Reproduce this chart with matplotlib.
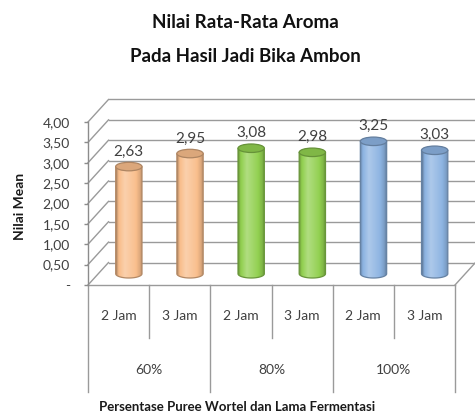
import numpy as np
import matplotlib
matplotlib.use('Agg')
import matplotlib.pyplot as plt
import matplotlib.colors as mcolors
from matplotlib.patches import Ellipse, PathPatch
from matplotlib.path import Path

plt.rcParams['font.family'] = ['Lato', 'DejaVu Sans']

# data
title_lines = ['Nilai Rata-Rata Aroma', 'Pada Hasil Jadi Bika Ambon']
groups = ['60%', '80%', '100%']
times = ['2 Jam', '3 Jam']
means = [2.63, 2.95, 3.08, 2.98, 3.25, 3.03]
bar_colors = ['#F9BE8C', '#F9BE8C', '#92D050', '#92D050', '#8DB4E2', '#8DB4E2']
yticks = [0, 0.5, 1.0, 1.5, 2.0, 2.5, 3.0, 3.5, 4.0]
ytick_labels = ['-', '0,50', '1,00', '1,50', '2,00', '2,50', '3,00', '3,50', '4,00']

W, H = 475, 417
fig = plt.figure(figsize=(W / 100, H / 100), dpi=100)
ax_px = (88, 132, 367, 163)  # left, bottom, width, height in pixels
ax = fig.add_axes([ax_px[0] / W, ax_px[1] / H, ax_px[2] / W, ax_px[3] / H])
n = len(means)
xmin, xmax, ymin, ymax = -0.5, n - 0.5, 0, 4
ax.patch.set_visible(False)
for s in ['top', 'right', 'bottom']:
    ax.spines[s].set_visible(False)
ax.spines['left'].set_color('#8c8c8c')
ax.spines['left'].set_linewidth(1.0)
ax.set_xticks([])
ax.set_yticks(yticks, ytick_labels)
ax.tick_params(axis='y', length=3, width=1.0, color='#8c8c8c', pad=10,
               labelsize=10, labelcolor='#404040')

# depth of the 3d box, converted from pixels to data units
depth_px = (20.5, 22.5)
dx = depth_px[0] * (xmax - xmin) / ax_px[2]
dy = depth_px[1] * (ymax - ymin) / ax_px[3]

grid = '#9a9a9a'
# back wall gridlines and side wall diagonals
for v in yticks:
    ax.plot([xmin + dx, xmax + dx], [v + dy, v + dy], color=grid, lw=1.0,
            clip_on=False, zorder=1)
    ax.plot([xmin, xmin + dx], [v, v + dy], color=grid, lw=1.0,
            clip_on=False, zorder=1)
# floor edges
ax.plot([xmin, xmax], [0, 0], color=grid, lw=1.0, clip_on=False, zorder=1)
ax.plot([xmax, xmax + dx], [0, dy], color=grid, lw=1.0, clip_on=False, zorder=1)


def shade_strip(color, steps=80):
    base = np.array(mcolors.to_rgb(color))
    t = np.linspace(0, 1, steps)
    k = np.interp(t, [0, 0.08, 0.33, 0.68, 0.9, 1],
                  [-0.32, -0.05, 0.28, 0.06, -0.12, -0.32])[:, None]
    rgb = np.where(k > 0, base + (1 - base) * k, base * (1 + k))
    return np.clip(rgb, 0, 1)[None, :, :]


def darker(color, f):
    return tuple(np.array(mcolors.to_rgb(color)) * (1 - f))


# cylinders sit at mid depth
w = 0.43
e = 8.5 * (ymax - ymin) / ax_px[3]
base_y = dy / 2
for i, (v, c) in enumerate(zip(means, bar_colors)):
    cx = i + dx / 2
    top = v + dy / 2
    x0, x1 = cx - w / 2, cx + w / 2
    t = np.linspace(np.pi, 2 * np.pi, 40)
    arc = np.column_stack([cx + w / 2 * np.cos(t), base_y + e / 2 * np.sin(t)])
    verts = np.vstack([[x0, top], arc, [x1, top], [x0, top]])
    codes = [Path.MOVETO] + [Path.LINETO] * (len(verts) - 2) + [Path.CLOSEPOLY]
    body = PathPatch(Path(verts, codes), facecolor='none',
                     edgecolor=darker(c, 0.28), lw=0.9, zorder=4)
    ax.add_patch(body)
    im = ax.imshow(shade_strip(c), extent=(x0, x1, base_y - e / 2, top),
                   aspect='auto', interpolation='bilinear', zorder=3)
    im.set_clip_path(body)
    ax.add_patch(Ellipse((cx, top), w, e, facecolor=darker(c, 0.12),
                         edgecolor=darker(c, 0.3), lw=0.9, zorder=5))
    ax.annotate(f'{v:.2f}'.replace('.', ','), xy=(cx, top), xytext=(0, 15),
                textcoords='offset pixels', ha='center', va='center',
                fontsize=11, color='#404040', zorder=6)

ax.set_xlim(xmin, xmax)
ax.set_ylim(ymin, ymax)

# category table below the floor
tr = ax.get_xaxis_transform()
for k in range(n + 1):
    x = xmin + k
    bottom = -0.656 if k % 2 == 0 else -0.325
    ax.plot([x, x], [0, bottom], color=grid, lw=1.0, transform=tr, clip_on=False)
for i in range(n):
    ax.text(i, -0.19, times[i % 2], transform=tr, ha='center', va='center',
            fontsize=10, color='#404040')
for g, name in enumerate(groups):
    ax.text(2 * g + 0.5, -0.52, name, transform=tr, ha='center', va='center',
            fontsize=10, color='#404040')

fig.text(0.5, 1 - 407 / H, 'Persentase Puree Wortel dan Lama Fermentasi',
         ha='center', va='center', fontsize=9.5, fontweight='bold', color='#1a1a1a')
fig.text(20 / W, 1 - 206 / H, 'Nilai Mean', rotation=90, ha='center', va='center',
         fontsize=10, fontweight='bold', color='#1a1a1a')
fig.text(245 / W, 1 - 23 / H, title_lines[0], ha='center', va='center',
         fontsize=13.5, fontweight='bold', color='#111111')
fig.text(245 / W, 1 - 56 / H, title_lines[1], ha='center', va='center',
         fontsize=13.5, fontweight='bold', color='#111111')

fig.savefig('out.png', dpi=100)
